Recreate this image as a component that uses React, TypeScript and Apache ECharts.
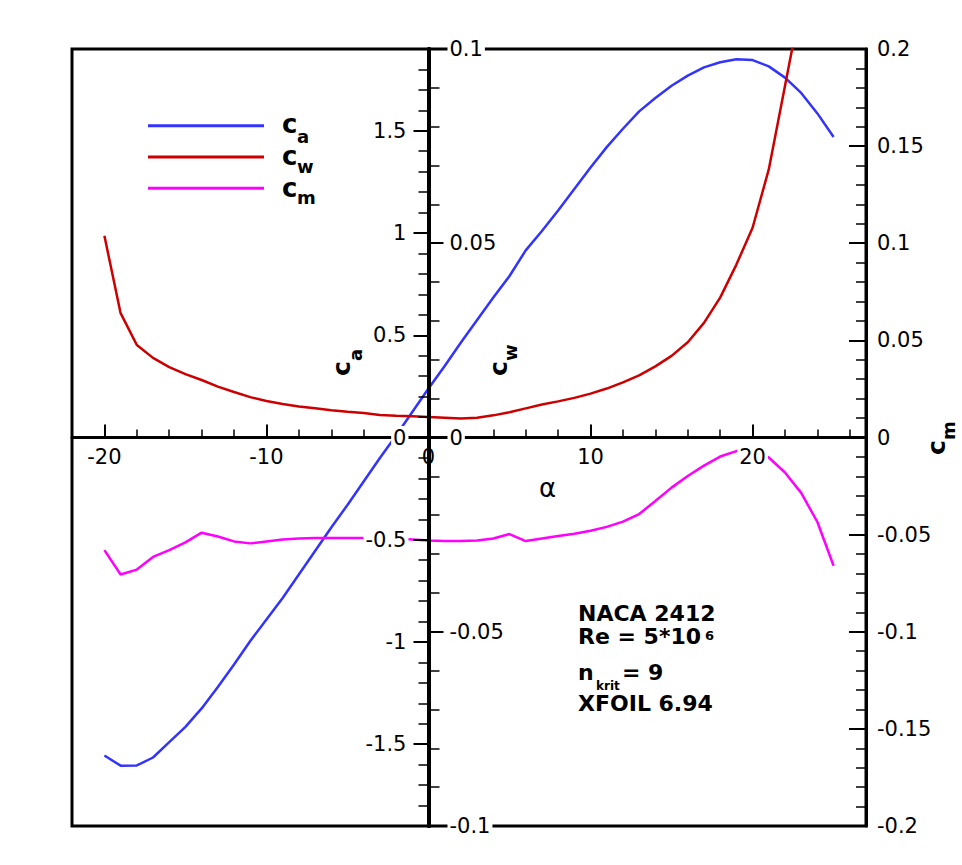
import React, { useEffect, useRef } from 'react';
import * as echarts from 'echarts';

// angle of attack (deg)
const alpha = [-20,-19,-18,-17,-16,-15,-14,-13,-12,-11,-10,-9,-8,-7,-6,-5,-4,-3,-2,-1,0,1,2,3,4,5,6,7,8,9,10,11,12,13,14,15,16,17,18,19,20,21,22,23,24,25];
// lift coefficient c_a
const ca = [-1.555,-1.605,-1.604,-1.565,-1.49,-1.415,-1.325,-1.22,-1.11,-0.995,-0.89,-0.785,-0.67,-0.555,-0.44,-0.33,-0.215,-0.1,0.01,0.125,0.24,0.35,0.465,0.575,0.685,0.79,0.915,1.01,1.11,1.215,1.32,1.42,1.51,1.595,1.66,1.72,1.77,1.81,1.835,1.85,1.846,1.815,1.76,1.685,1.585,1.47];
// drag coefficient c_w (alpha -20 .. 23)
const cw = [0.0519,0.032,0.0238,0.0205,0.0181,0.0163,0.0148,0.0131,0.0117,0.0104,0.0094,0.0086,0.008,0.0075,0.007,0.0066,0.0063,0.0058,0.0056,0.0055,0.0053,0.0051,0.0049,0.0051,0.0057,0.0065,0.0075,0.0085,0.0093,0.0102,0.0113,0.0126,0.0142,0.016,0.0183,0.021,0.0245,0.0295,0.036,0.0445,0.054,0.069,0.0905,0.112];
// moment coefficient c_m
const cm = [-0.058,-0.0705,-0.068,-0.0615,-0.058,-0.054,-0.049,-0.051,-0.0535,-0.0545,-0.0535,-0.0525,-0.052,-0.0517,-0.0517,-0.0517,-0.0517,-0.0517,-0.052,-0.0525,-0.053,-0.0533,-0.0533,-0.053,-0.052,-0.0497,-0.0533,-0.052,-0.0507,-0.0495,-0.048,-0.046,-0.0433,-0.0394,-0.0327,-0.0258,-0.0198,-0.0145,-0.0098,-0.007,-0.0065,-0.0103,-0.018,-0.0285,-0.0435,-0.066];

// tick labels
const xTickValues = [-20, -10, 0, 10, 20];
const caTickValues = [-1.5, -1, -0.5, 0, 0.5, 1, 1.5];
const cwTickValues = [-0.1, -0.05, 0, 0.05, 0.1];
const cmTickValues = [-0.2, -0.15, -0.1, -0.05, 0, 0.05, 0.1, 0.15, 0.2];

const X_MIN = -22;
const X_MAX = 27;
const CA_MAX = 1.9;

const FONT = '"DejaVu Sans", "Liberation Sans", Arial, sans-serif';
const C_BLUE = '#3333ff';
const C_RED = '#cc0000';
const C_MAG = '#ff00ff';

// layout
const W = 962;
const H = 865;
const G_LEFT = 72;
const G_TOP = 49;
const G_RIGHT = 96;
const G_BOTTOM = 39;
const G_W = W - G_LEFT - G_RIGHT;
const G_H = H - G_TOP - G_BOTTOM;
const X0 = G_LEFT + (G_W * (0 - X_MIN)) / (X_MAX - X_MIN);
const Y0 = G_TOP + G_H / 2;

function txt(x: number, baseline: number, text: string, fs: number, bold: boolean, z = 20) {
  return {
    type: 'text',
    x,
    y: baseline - 0.346 * fs,
    z,
    style: {
      text,
      fill: '#000',
      fontSize: fs,
      fontFamily: FONT,
      fontWeight: bold ? 'bold' : 'normal',
      align: 'left',
      textAlign: 'left',
      verticalAlign: 'middle',
      textVerticalAlign: 'middle',
    },
  };
}

function rotTitle(x: number, y: number, main: string, sub: string, subDx: number, subDy: number) {
  return {
    type: 'group',
    x,
    y,
    rotation: Math.PI / 2,
    z: 20,
    children: [txt(0, 0, main, 25, true), txt(subDx, subDy, sub, 18, true)],
  };
}

const labelStyle = {
  color: '#000',
  fontSize: 21,
  fontFamily: FONT,
  backgroundColor: '#fff',
  padding: [1, 2, 1, 2],
  showMinLabel: true,
  showMaxLabel: true,
};

export default function App() {
  const ref = useRef<HTMLDivElement>(null);
  useEffect(() => {
    if (!ref.current) return;
    const chart = echarts.init(ref.current, undefined, { renderer: 'svg' });
    const legendRows = [
      { y: 125.7, color: C_BLUE, sub: 'a', base: 133.3, subBase: 142.5 },
      { y: 157, color: C_RED, sub: 'w', base: 165, subBase: 172.7 },
      { y: 188.2, color: C_MAG, sub: 'm', base: 196.7, subBase: 204 },
    ];
    const graphics: any[] = [];
    legendRows.forEach((r) => {
      graphics.push({
        type: 'line',
        z: 20,
        shape: { x1: 148, y1: r.y, x2: 264, y2: r.y },
        style: { stroke: r.color, lineWidth: 3 },
      });
      graphics.push(txt(282, r.base, 'c', 26, true));
      graphics.push(txt(297, r.subBase, r.sub, 18, true));
    });
    // axis titles
    graphics.push(rotTitle(350, 376, 'c', 'a', 15, 12));
    graphics.push(rotTitle(507, 376, 'c', 'w', 15, 10));
    graphics.push(rotTitle(945, 455, 'c', 'm', 15, 10));
    graphics.push(txt(539, 497, 'α', 26, false));
    // annotation
    graphics.push(txt(578, 620.7, 'NACA 2412', 22, true));
    graphics.push(txt(578, 644, 'Re = 5*10', 22, true));
    graphics.push(txt(705, 640, '6', 13, true));
    graphics.push(txt(578, 680, 'n', 22, true));
    graphics.push(txt(596, 690, 'krit', 12, true));
    graphics.push(txt(622, 680, '= 9', 22, true));
    graphics.push(txt(578, 711, 'XFOIL 6.94', 22, true));

    const option: any = {
      animation: false,
      backgroundColor: '#fff',
      grid: {
        left: G_LEFT,
        top: G_TOP,
        right: G_RIGHT,
        bottom: G_BOTTOM,
        show: true,
        borderColor: '#000',
        borderWidth: 3,
        backgroundColor: 'transparent',
      },
      xAxis: {
        type: 'value',
        min: X_MIN,
        max: X_MAX,
        splitNumber: 5,
        position: 'bottom',
        offset: -(G_TOP + G_H - Y0),
        z: 3,
        axisLine: { show: true, onZero: false, lineStyle: { color: '#000', width: 3 } },
        axisTick: { show: true, inside: true, length: 13, customValues: xTickValues, lineStyle: { color: '#000', width: 2 } },
        minorTick: { show: true, splitNumber: 5, length: 8, lineStyle: { color: '#000', width: 1.5 } },
        axisLabel: { ...labelStyle, margin: 8, customValues: xTickValues },
        splitLine: { show: false },
        minorSplitLine: { show: false },
      },
      yAxis: [
        {
          type: 'value',
          min: -CA_MAX,
          max: CA_MAX,
          splitNumber: 8,
          position: 'left',
          offset: G_LEFT - X0,
          z: 4,
          axisLine: { show: true, onZero: false, lineStyle: { color: '#000', width: 4 } },
          axisTick: { show: true, inside: false, length: 15, customValues: caTickValues, lineStyle: { color: '#000', width: 2 } },
          minorTick: { show: true, splitNumber: 5, length: 10, lineStyle: { color: '#000', width: 1.5 } },
          axisLabel: { ...labelStyle, margin: 20, customValues: caTickValues },
          splitLine: { show: false },
        },
        {
          type: 'value',
          min: -0.1,
          max: 0.1,
          interval: 0.05,
          position: 'right',
          offset: X0 - (G_LEFT + G_W),
          z: 4,
          axisLine: { show: true, onZero: false, lineStyle: { color: '#000', width: 4 } },
          axisTick: { show: true, inside: false, length: 15, customValues: cwTickValues, lineStyle: { color: '#000', width: 2 } },
          minorTick: { show: true, splitNumber: 5, length: 11, lineStyle: { color: '#000', width: 1.5 } },
          axisLabel: { ...labelStyle, margin: 19, customValues: cwTickValues },
          splitLine: { show: false },
        },
        {
          type: 'value',
          min: -0.2,
          max: 0.2,
          interval: 0.05,
          position: 'right',
          offset: 0,
          z: 4,
          axisLine: { show: true, onZero: false, lineStyle: { color: '#000', width: 3 } },
          axisTick: { show: true, inside: true, length: 17, customValues: cmTickValues, lineStyle: { color: '#000', width: 2 } },
          minorTick: { show: true, splitNumber: 5, length: 10, lineStyle: { color: '#000', width: 1.5 } },
          axisLabel: { ...labelStyle, margin: 9, customValues: cmTickValues },
          splitLine: { show: false },
        },
      ],
      series: [
        {
          type: 'line',
          name: 'ca',
          yAxisIndex: 0,
          data: alpha.map((a, i) => [a, ca[i]]),
          showSymbol: false,
          symbol: 'none',
          lineStyle: { color: C_BLUE, width: 2.5 },
          z: 2,
        },
        {
          type: 'line',
          name: 'cw',
          yAxisIndex: 1,
          data: cw.map((v, i) => [alpha[i], v]),
          showSymbol: false,
          symbol: 'none',
          lineStyle: { color: C_RED, width: 2.5 },
          z: 2,
        },
        {
          type: 'line',
          name: 'cm',
          yAxisIndex: 2,
          data: alpha.map((a, i) => [a, cm[i]]),
          showSymbol: false,
          symbol: 'none',
          lineStyle: { color: C_MAG, width: 2.5 },
          z: 2,
        },
      ],
      graphic: { elements: graphics },
    };
    chart.setOption(option);
    return () => chart.dispose();
  }, []);
  return (
    <div
      ref={ref}
      style={{ position: 'fixed', left: 0, top: 0, width: W, height: H, background: '#fff' }}
    />
  );
}
